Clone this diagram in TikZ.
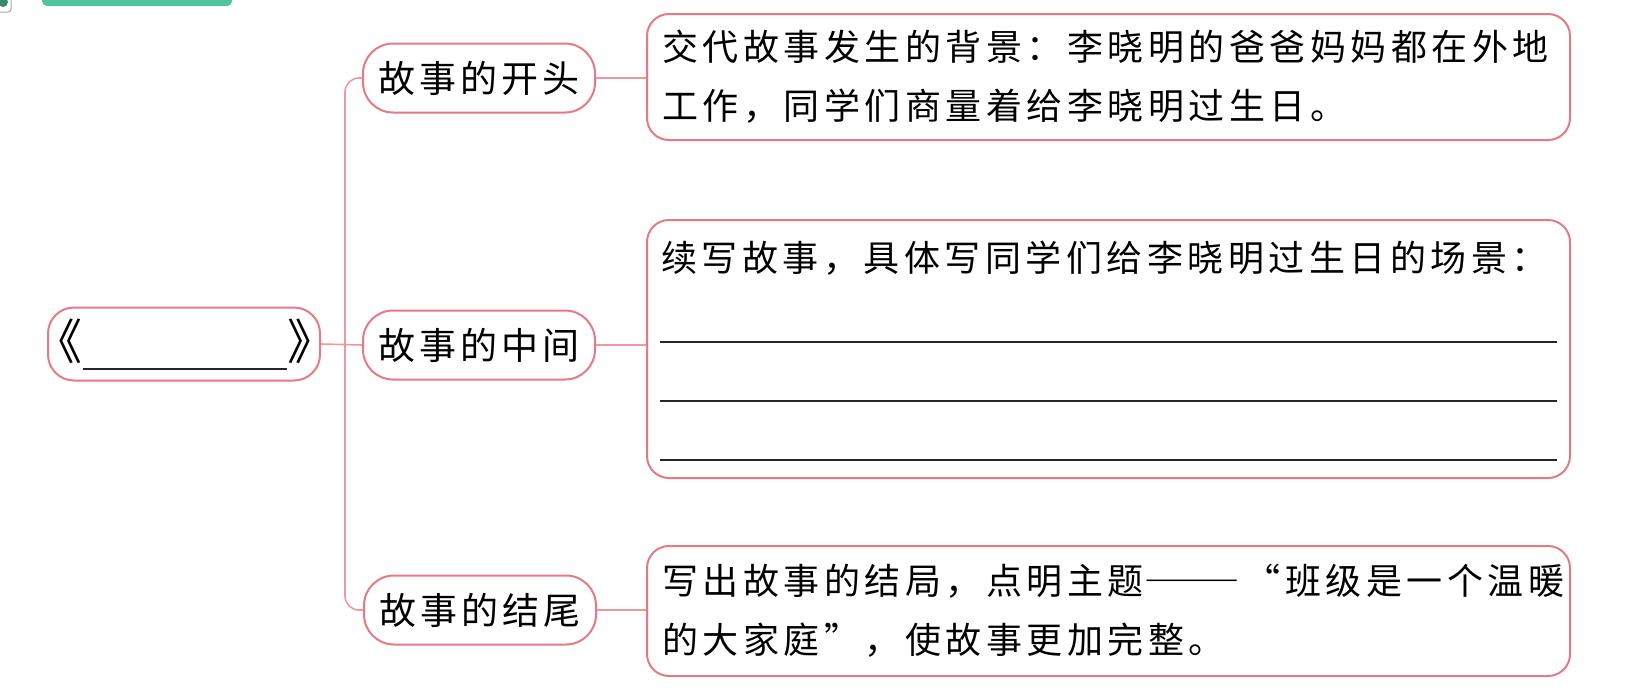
\documentclass[tikz,border=0pt]{standalone}
\usepackage{fontspec}
\usepackage{graphicx}
\newfontfamily\cjk{Noto Sans CJK SC}
\usetikzlibrary{calc}
\definecolor{pinkborder}{RGB}{230,122,132}
\definecolor{pinkline}{RGB}{240,152,160}
\definecolor{greenbar}{RGB}{80,196,156}
\newcommand{\dbldash}{\scalebox{1.35}[1]{\addfontfeature{LetterSpace=0}――}\kern4pt}
\tikzset{
 mapbox/.style={draw=pinkborder, line width=2pt, fill=white, rounded corners=22pt},
 pill/.style={draw=pinkborder, line width=2pt, fill=white, rounded corners=30pt, minimum width=232pt, minimum height=69pt, inner sep=0pt, font=\cjk\fontsize{37}{40}\selectfont\addfontfeature{LetterSpace=11}},
 conn/.style={draw=pinkline, line width=1.6pt},
 bodytext/.style={font=\cjk\fontsize{36}{59}\selectfont\addfontfeature{LetterSpace=12.5}, align=left, text width=893pt, inner xsep=15pt, inner ysep=0pt, minimum width=923pt},
 writeline/.style={draw=black!85, line width=1.4pt},
 quote/.style={font=\cjk\fontsize{48}{48}\selectfont, inner sep=0pt},
}
\begin{document}
\begin{tikzpicture}[x=1pt,y=-1pt]
\useasboundingbox (0,0) rectangle (1635,694);
\begin{scope}
\clip (0,0) rectangle (1635,694);
\fill[greenbar, rounded corners=5pt] (42,-12) rectangle (232,6);
\draw[gray!70, line width=1pt, fill=white, rounded corners=3pt] (-6,-8) rectangle (11,12);
\fill[greenbar!70!black] (3,2) circle (5);
\end{scope}

% root
\node[draw=pinkborder, line width=2pt, rounded corners=26pt, minimum width=272pt, minimum height=73pt, inner sep=0pt] (root) at (184,344) {};
\node[quote] (lq) at (58,341) {《};
\node[quote] (rq) at (311,341) {》};
\draw[black!85, line width=1.6pt] (83,369) -- (287,369);

% children
\node[pill] (c1) at (479,78) {故事的开头};
\node[pill] (c2) at (479,345) {故事的中间};
\node[pill] (c3) at (480,610) {故事的结尾};

% boxes
\node[mapbox, bodytext, minimum height=126pt, anchor=north west] (b1) at (646,13) {交代故事发生的背景：李晓明的爸爸妈妈都在外地\\工作，同学们商量着给李晓明过生日。};
\node[mapbox, minimum width=923pt, minimum height=258pt, anchor=north west] (b2) at (646,219) {};
\node[bodytext, anchor=west] (t2) at (646,258) {续写故事，具体写同学们给李晓明过生日的场景：};
\draw[writeline] (660,342) -- (1557,342);
\draw[writeline] (660,401) -- (1557,401);
\draw[writeline] (660,460) -- (1557,460);
\node[mapbox, bodytext, minimum height=130pt, anchor=north west] (b3) at (646,545) {写出故事的结局，点明主题\dbldash“班级是一个温暖\\的大家庭”，使故事更加完整。};

% connectors
\coordinate (trunk) at (345,344);
\draw[conn, rounded corners=14pt] (c1.west) -| (trunk) |- (c3.west);
\draw[conn] (root.east) -- (c2.west);
\draw[conn] (c1.east) -- (c1.east -| b1.west);
\draw[conn] (c2.east) -- (c2.east -| b2.west);
\draw[conn] (c3.east) -- (c3.east -| b3.west);
\end{tikzpicture}
\end{document}
